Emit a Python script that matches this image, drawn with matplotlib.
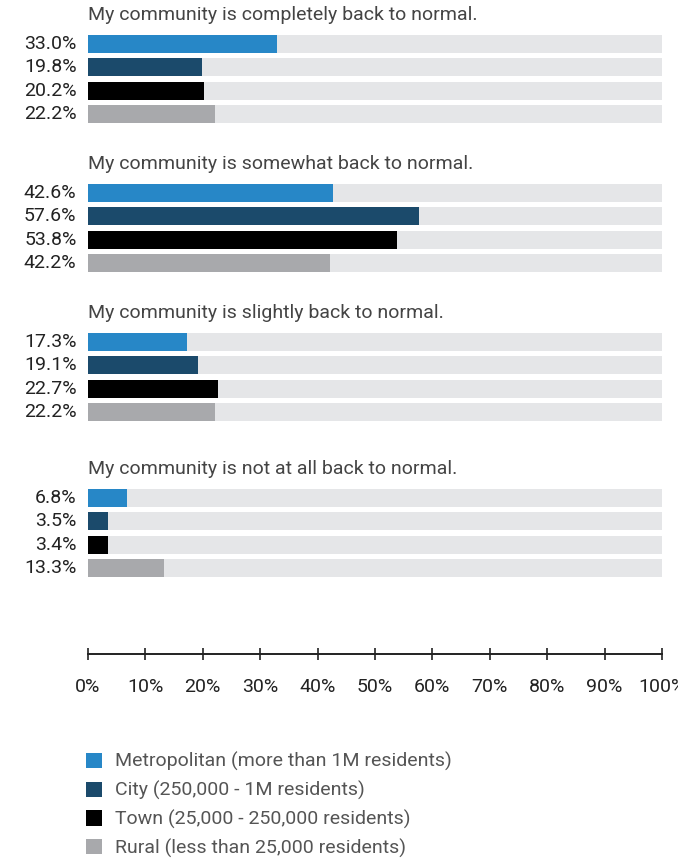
import matplotlib.pyplot as plt
from matplotlib.patches import Patch
from matplotlib.ticker import MultipleLocator, PercentFormatter

plt.rcParams['font.family'] = ['Roboto', 'DejaVu Sans']

questions = [
    "My community is completely back to normal.",
    "My community is somewhat back to normal.",
    "My community is slightly back to normal.",
    "My community is not at all back to normal.",
]
segments = [
    "Metropolitan (more than 1M residents)",
    "City (250,000 - 1M residents)",
    "Town (25,000 - 250,000 residents)",
    "Rural (less than 25,000 residents)",
]
metro = [33.0, 42.6, 17.3, 6.8]
city = [19.8, 57.6, 19.1, 3.5]
town = [20.2, 53.8, 22.7, 3.4]
rural = [22.2, 42.2, 22.2, 13.3]

colors = ['#2787c7', '#1b4a6b', '#000000', '#a8a9ac']
track = '#e5e6e8'

W, H = 678, 861
fig = plt.figure(figsize=(W / 100, H / 100), dpi=100)
ax = fig.add_axes([88 / W, 1 - 654 / H, (662 - 88) / W, 654 / H])

# layout in pixel rows (y axis runs top -> bottom)
group_first = [44, 193, 342, 498]
pitch = 23.4
bar_h = 18
fs = 14

series = [metro, city, town, rural]
for g, q in enumerate(questions):
    y0 = group_first[g]
    ax.text(0, y0 - 29, q, ha='left', va='center', fontsize=fs, color='#444444')
    for s, vals in enumerate(series):
        y = y0 + s * pitch
        ax.barh(y, 100, height=bar_h, color=track, zorder=1)
        ax.barh(y, vals[g], height=bar_h, color=colors[s], zorder=2)
        ax.text(-2, y, f"{vals[g]:.1f}%", ha='right', va='center',
                fontsize=fs, color='#222222')

ax.set_xlim(0, 100)
ax.set_ylim(654, 0)
for sp in ['top', 'right', 'left']:
    ax.spines[sp].set_visible(False)
ax.spines['bottom'].set_linewidth(1.4)
ax.spines['bottom'].set_color('#222222')
ax.set_yticks([])
ax.xaxis.set_major_locator(MultipleLocator(10))
ax.xaxis.set_major_formatter(PercentFormatter(decimals=0))
ax.tick_params(axis='x', direction='inout', length=8, width=1.2, color='#222222',
               pad=13, labelsize=fs, labelcolor='#222222')
ax.set_facecolor('none')

handles = [Patch(facecolor=c, edgecolor='none') for c in colors]
fig.legend(handles, segments, loc='upper left',
           bbox_to_anchor=(86 / W, 1 - 752 / H), frameon=False,
           borderpad=0, borderaxespad=0,
           fontsize=fs, labelcolor='#555555', handlelength=0.82, handleheight=0.82,
           handletextpad=0.65, labelspacing=0.5)

fig.savefig('out.png', dpi=100)
